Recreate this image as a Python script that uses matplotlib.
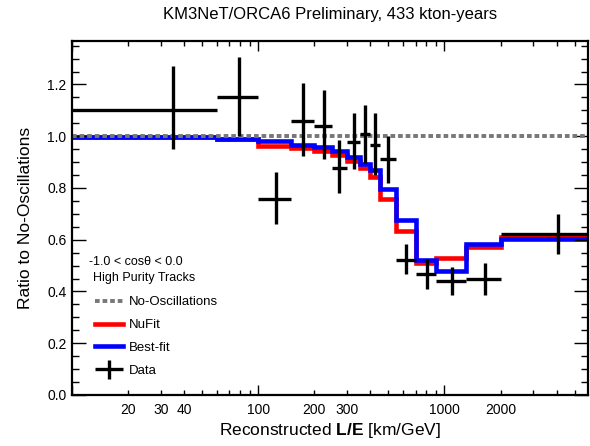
import numpy as np
import matplotlib
matplotlib.use("Agg")
import matplotlib.pyplot as plt
from matplotlib.ticker import FixedLocator, FuncFormatter, MultipleLocator
from matplotlib.legend_handler import HandlerErrorbar

plt.rcParams["font.family"] = ["Liberation Sans", "DejaVu Sans"]
plt.rcParams["mathtext.fontset"] = "custom"
plt.rcParams["mathtext.rm"] = "Liberation Sans"
plt.rcParams["mathtext.bf"] = "Liberation Sans:bold"

# ===== DATA =====
bin_edges = [10, 60, 100, 150, 200, 250, 300, 350, 400, 450, 550, 700, 900, 1300, 2000, 10000]

data_x = [35, 79, 125, 174, 225, 273, 326, 376, 425, 499, 624, 801, 1104, 1656, 4050]
data_y = [1.10, 1.15, 0.757, 1.059, 1.039, 0.878, 0.979, 1.007, 0.966, 0.911,
          0.521, 0.467, 0.442, 0.447, 0.621]
data_ylo = [0.95, 1.00, 0.66, 0.923, 0.911, 0.782, 0.873, 0.895, 0.850, 0.82,
            0.467, 0.408, 0.386, 0.386, 0.545]
data_yhi = [1.271, 1.308, 0.863, 1.205, 1.177, 0.985, 1.089, 1.121, 1.089, 1.00,
            0.583, 0.525, 0.496, 0.512, 0.70]

best_fit = [0.996, 0.988, 0.980, 0.968, 0.957, 0.944, 0.918, 0.892, 0.869, 0.798,
            0.676, 0.520, 0.478, 0.582, 0.601]
nufit = [0.997, 0.990, 0.964, 0.954, 0.943, 0.929, 0.905, 0.879, 0.841, 0.757,
         0.634, 0.510, 0.530, 0.573, 0.612]

no_osc = 1.0

x_labeled = [20, 30, 40, 100, 200, 300, 1000, 2000]

# ===== PLOT =====
fig = plt.figure(figsize=(5.9, 4.46), dpi=100)
ax = fig.add_axes([72 / 590, 1 - 395 / 446, 516 / 590, 354 / 446])

ax.set_xscale("log")
ax.set_xlim(10, 5900)
ax.set_ylim(0, 1.368)

ax.axhline(no_osc, color="#777777", lw=2.8, dashes=(1.2, 0.75), label="No-Oscillations")
ax.stairs(nufit, bin_edges, color="red", lw=3.3, baseline=None, label="NuFit")
ax.stairs(best_fit, bin_edges, color="blue", lw=3.3, baseline=None, label="Best-fit")

edges = np.array(bin_edges)
dx = np.array(data_x)
dy = np.array(data_y)
xlo = edges[:-1]
xhi = np.minimum(edges[1:], 5900)
ax.errorbar(dx, dy, xerr=[dx - xlo, xhi - dx],
            yerr=[dy - np.array(data_ylo), np.array(data_yhi) - dy],
            fmt="none", ecolor="black", elinewidth=2.4, capsize=0, label="Data")

# ticks, ROOT style
ax.xaxis.set_major_locator(FixedLocator([10, 100, 1000]))
minors = [m * d for d in (10, 100, 1000) for m in range(2, 10)]
ax.xaxis.set_minor_locator(FixedLocator(minors))
ax.xaxis.set_major_formatter(FuncFormatter(lambda v, p: f"{v:g}" if v in x_labeled else ""))
ax.xaxis.set_minor_formatter(FuncFormatter(lambda v, p: f"{v:g}" if round(v) in x_labeled else ""))
ax.yaxis.set_major_locator(MultipleLocator(0.2))
ax.yaxis.set_minor_locator(MultipleLocator(0.05))
ax.yaxis.set_major_formatter(FuncFormatter(lambda v, p: f"{v:.1f}"))

ax.tick_params(axis="both", which="both", direction="in", top=True, right=True,
               labelsize=10, width=1.0)
ax.tick_params(axis="x", which="major", length=7.5, pad=6)
ax.tick_params(axis="x", which="minor", length=3.8, pad=6)
ax.tick_params(axis="y", which="major", length=10, pad=4)
ax.tick_params(axis="y", which="minor", length=5)
for s in ax.spines.values():
    s.set_linewidth(1.6)

ax.set_xlabel(r"Reconstructed $\mathbf{L/E}$ [km/GeV]", fontsize=12.5, labelpad=3)
ax.set_ylabel("Ratio to No-Oscillations", fontsize=12.5, labelpad=10)
fig.text(0.56, 0.967, "KM3NeT/ORCA6 Preliminary, 433 kton-years",
         ha="center", va="center", fontsize=12)

ax.text(0.033, 0.376, "-1.0 < cosθ < 0.0", transform=ax.transAxes,
        fontsize=9, va="center", ha="left")
ax.text(0.041, 0.331, "High Purity Tracks", transform=ax.transAxes,
        fontsize=9, va="center", ha="left")

ax.legend(loc="upper left", bbox_to_anchor=(0.045, 0.279), frameon=False,
          fontsize=9.5, handlelength=2.1, handletextpad=0.45, labelspacing=0.8,
          borderpad=0, borderaxespad=0,
          handler_map={type(ax.containers[0]): HandlerErrorbar(xerr_size=1.05, yerr_size=0.72)})

fig.savefig("out.png", dpi=100)
